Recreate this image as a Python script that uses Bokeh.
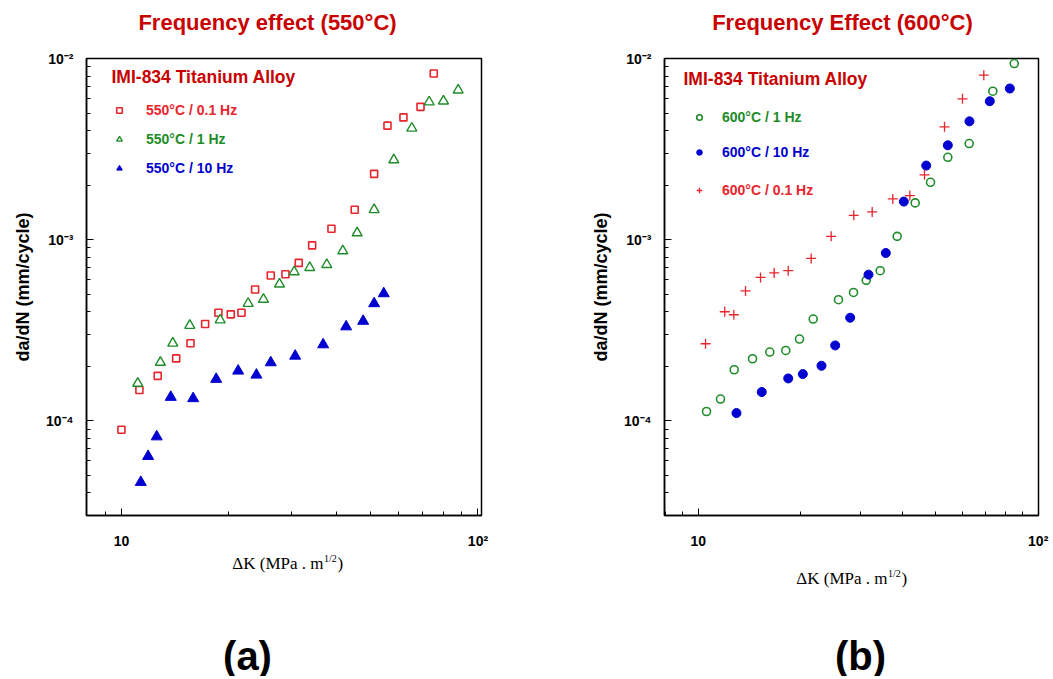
from bokeh.plotting import figure
from bokeh.models import Range1d, FixedTicker, Label, Legend, LegendItem
from bokeh.layouts import row, column
from bokeh.embed import file_html
from bokeh.resources import INLINE

# ---------------- data: panel (a) 550°C ----------------
a_dk_01hz = [10.0, 11.23, 12.64, 14.24, 15.62, 17.17, 18.71, 20.26, 21.71, 23.71, 26.23,
             28.84, 31.43, 34.27, 38.82, 45.11, 51.14, 55.74, 61.8, 68.99, 75.16]
a_rate_01hz = [8.92e-5, 1.48e-4, 1.77e-4, 2.21e-4, 2.68e-4, 3.42e-4, 3.95e-4, 3.87e-4, 3.95e-4,
               5.31e-4, 6.34e-4, 6.44e-4, 7.44e-4, 9.30e-4, 1.149e-3, 1.463e-3, 2.308e-3,
               4.26e-3, 4.73e-3, 5.41e-3, 8.27e-3]
a_dk_1hz = [11.11, 12.86, 13.93, 15.55, 18.92, 22.67, 25.02, 27.75, 30.51, 33.74, 37.66,
            41.76, 45.83, 51.14, 58.06, 65.22, 72.97, 80.03, 87.99]
a_rate_1hz = [1.61e-4, 2.10e-4, 2.68e-4, 3.36e-4, 3.60e-4, 4.44e-4, 4.68e-4, 5.68e-4, 6.64e-4,
              7.01e-4, 7.28e-4, 8.67e-4, 1.089e-3, 1.463e-3, 2.756e-3, 4.12e-3, 5.75e-3,
              5.82e-3, 6.69e-3]
a_dk_10hz = [11.33, 11.88, 12.56, 13.75, 15.89, 18.44, 21.25, 23.91, 26.23, 30.71, 36.79,
             42.68, 47.64, 51.14, 54.42]
a_rate_10hz = [4.58e-5, 6.37e-5, 8.17e-5, 1.35e-4, 1.328e-4, 1.697e-4, 1.885e-4, 1.791e-4,
               2.096e-4, 2.279e-4, 2.633e-4, 3.307e-4, 3.551e-4, 4.44e-4, 5.04e-4]

# ---------------- data: panel (b) 600°C ----------------
b_dk_1hz = [10.58, 11.63, 12.76, 14.45, 16.24, 18.1, 19.86, 21.79, 25.86, 28.63, 31.2, 34.3,
            38.48, 43.47, 48.23, 54.22, 62.67, 73.54, 85.03]
b_rate_1hz = [1.125e-4, 1.318e-4, 1.913e-4, 2.2e-4, 2.396e-4, 2.445e-4, 2.827e-4, 3.645e-4,
              4.66e-4, 5.11e-4, 5.96e-4, 6.74e-4, 1.043e-3, 1.595e-3, 2.073e-3, 2.849e-3,
              3.393e-3, 6.6e-3, 9.38e-3]
b_dk_10hz = [12.96, 15.38, 18.4, 20.31, 23.05, 25.29, 27.99, 31.69, 35.63, 40.25, 46.84,
             54.22, 62.79, 72.05, 82.53]
b_rate_10hz = [1.103e-4, 1.441e-4, 1.713e-4, 1.811e-4, 2.013e-4, 2.606e-4, 3.707e-4, 6.41e-4,
               8.44e-4, 1.622e-3, 2.564e-3, 3.319e-3, 4.5e-3, 5.81e-3, 6.83e-3]
b_dk_01hz = [10.51, 11.97, 12.73, 13.78, 15.25, 16.73, 18.4, 21.49, 24.61, 28.68, 32.49,
             37.36, 41.93, 46.3, 53.02, 59.89, 69.18]
b_rate_01hz = [2.662e-4, 4.0e-4, 3.85e-4, 5.21e-4, 6.19e-4, 6.55e-4, 6.74e-4, 7.88e-4,
               1.043e-3, 1.362e-3, 1.422e-3, 1.679e-3, 1.75e-3, 2.278e-3, 4.195e-3,
               5.99e-3, 8.09e-3]

# ---------------- ticks / labels ----------------
x_major = [10, 100]
x_major_labels = ["10", "10²"]
x_minor = [8, 9, 20, 30, 40, 50, 60, 70, 80, 90]
y_major = [1e-4, 1e-3, 1e-2]
y_major_labels = ["10⁻⁴", "10⁻³", "10⁻²"]
y_minor = [3e-5, 4e-5, 5e-5, 6e-5, 7e-5, 8e-5, 9e-5,
           2e-4, 3e-4, 4e-4, 5e-4, 6e-4, 7e-4, 8e-4, 9e-4,
           2e-3, 3e-3, 4e-3, 5e-3, 6e-3, 7e-3, 8e-3, 9e-3]

titles = ["Frequency effect (550°C)", "Frequency Effect (600°C)"]
alloy = "IMI-834  Titanium Alloy"
a_names = ["550°C / 0.1 Hz", "550°C / 1 Hz", "550°C / 10 Hz"]
b_names = ["600°C / 1 Hz", "600°C / 10 Hz", "600°C / 0.1 Hz"]
y_label = "da/dN (mm/cycle)"
x_label_main = "ΔK (MPa . m"
x_label_sup = "1/2"
x_label_end = ")"
panel_tags = ["(a)", "(b)"]

RED = "#e8242c"
DARKRED = "#c80000"
GREEN = "#1e8c28"
BLUE = "#0000d0"
SANS = "Liberation Sans"
SERIF = "Liberation Serif"

TOP_H = 45
MAIN_H = 506          # 13 top border + 458 frame + 35 bottom border
BOT_H = 125


def strip(width, height):
    s = figure(width=width, height=height, x_range=Range1d(0, 1), y_range=Range1d(0, 1),
               toolbar_location=None, output_backend="svg",
               x_axis_location=None, y_axis_location=None, min_border=0)
    s.grid.visible = False
    s.outline_line_color = None
    s.background_fill_color = "white"
    s.border_fill_color = "white"
    return s


def make_panel(width, bl, br, xr):
    p = figure(width=width, height=MAIN_H, x_axis_type="log", y_axis_type="log",
               x_range=Range1d(*xr), y_range=Range1d(3e-5, 1e-2),
               output_backend="svg", toolbar_location=None,
               min_border_left=bl, min_border_right=br, min_border_top=13,
               min_border_bottom=35)
    p.grid.visible = False
    p.background_fill_color = "white"
    p.border_fill_color = "white"
    p.outline_line_color = "black"
    p.outline_line_width = 1.5
    for ax in (p.xaxis[0], p.yaxis[0]):
        ax.axis_line_color = "black"
        ax.axis_line_width = 1.5
        ax.major_tick_in = 7
        ax.major_tick_out = 0
        ax.minor_tick_in = 4
        ax.minor_tick_out = 0
        ax.major_tick_line_color = "black"
        ax.minor_tick_line_color = "black"
        ax.major_label_text_font = SANS
        ax.major_label_text_font_style = "bold"
        ax.major_label_text_font_size = "14px"
        ax.major_label_text_color = "black"
    p.xaxis.ticker = FixedTicker(ticks=x_major, minor_ticks=x_minor)
    p.xaxis.major_label_overrides = dict(zip(x_major, x_major_labels))
    p.xaxis.major_label_standoff = 17
    p.yaxis.ticker = FixedTicker(ticks=y_major, minor_ticks=y_minor)
    p.yaxis.major_label_overrides = dict(zip(y_major, y_major_labels))
    p.yaxis.major_label_standoff = 13
    p.yaxis.axis_label = y_label
    p.yaxis.axis_label_text_font = SANS
    p.yaxis.axis_label_text_font_style = "bold"
    p.yaxis.axis_label_text_font_size = "18px"
    p.yaxis.axis_label_text_color = "black"
    p.yaxis.axis_label_standoff = 10
    return p


def slabel(p, x, y, text, size, color="black", style="bold", font=SANS,
           align="left", baseline="middle"):
    p.add_layout(Label(x=x, y=y, x_units="screen", y_units="screen", text=text,
                       text_font=font, text_font_size=size, text_font_style=style,
                       text_color=color, text_align=align, text_baseline=baseline))


def xlabel(p, xm, y):
    slabel(p, xm, y, x_label_main, "17px", style="normal", font=SERIF, align="right")
    slabel(p, xm + 0.5, y + 5, x_label_sup, "10px", style="normal", font=SERIF)
    slabel(p, xm + 14, y, x_label_end, "17px", style="normal", font=SERIF)


def legend_entry(p, r, text, color, x, y, standoff):
    lg = Legend(items=[LegendItem(label=text, renderers=[r])], location=(x, y),
                padding=0, margin=0, spacing=0, glyph_width=14, glyph_height=20,
                label_height=20, label_standoff=standoff,
                border_line_color=None, background_fill_alpha=0,
                label_text_font=SANS, label_text_font_style="bold",
                label_text_font_size="14px", label_text_color=color)
    p.add_layout(lg, "center")


# strips share the frame alignment of the panels: x is measured from the panel frame left
WA, WB = 570, 480

# ---------------- panel (a) ----------------
top_a = strip(WA, TOP_H)
slabel(top_a, 181, 23.5, titles[0], "22px", color=DARKRED, align="center")
pa = make_panel(WA, 86, 89, (7.98, 102.3))
ra1 = pa.scatter(a_dk_01hz, a_rate_01hz, marker="square", size=7, fill_color="white",
                 line_color=RED, line_width=1.6)
ra2 = pa.scatter(a_dk_1hz, a_rate_1hz, marker="triangle", size=10, fill_color="white",
                 line_color=GREEN, line_width=1.4)
ra3 = pa.scatter(a_dk_10hz, a_rate_10hz, marker="triangle", size=11, fill_color=BLUE,
                 line_color=BLUE, line_width=1)
slabel(pa, 25, 438.3, alloy, "17.5px", color=DARKRED)
legend_entry(pa, ra1, a_names[0], RED, 26, 395, 20)
legend_entry(pa, ra2, a_names[1], GREEN, 26, 366, 20)
legend_entry(pa, ra3, a_names[2], BLUE, 26, 337, 20)
bot_a = strip(WA, BOT_H)
xlabel(bot_a, 237, 113)
slabel(bot_a, 161, 21, panel_tags[0], "40px", align="center")

# ---------------- panel (b) ----------------
top_b = strip(WB, TOP_H)
slabel(top_b, 178, 23.5, titles[1], "22px", color=DARKRED, align="center")
pb = make_panel(WB, 94, 12, (7.96, 100.2))
rb1 = pb.scatter(b_dk_1hz, b_rate_1hz, marker="circle", size=8, fill_color="white",
                 line_color=GREEN, line_width=1.6)
rb2 = pb.scatter(b_dk_10hz, b_rate_10hz, marker="circle", size=9, fill_color=BLUE,
                 line_color=BLUE, line_width=1)
rb3 = pb.scatter(b_dk_01hz, b_rate_01hz, marker="cross", size=10, line_color=RED,
                 line_width=1.3)
slabel(pb, 19, 437, alloy, "17.5px", color=DARKRED)
legend_entry(pb, rb1, b_names[0], GREEN, 28, 388, 16)
legend_entry(pb, rb2, b_names[1], BLUE, 28, 353, 16)
legend_entry(pb, rb3, b_names[2], RED, 28, 315, 16)
bot_b = strip(WB, BOT_H)
xlabel(bot_b, 223, 98)
slabel(bot_b, 196, 21, panel_tags[1], "40px", align="center")

layout = row(column(top_a, pa, bot_a), column(top_b, pb, bot_b))
open("out.html", "w").write(file_html(layout, INLINE))
